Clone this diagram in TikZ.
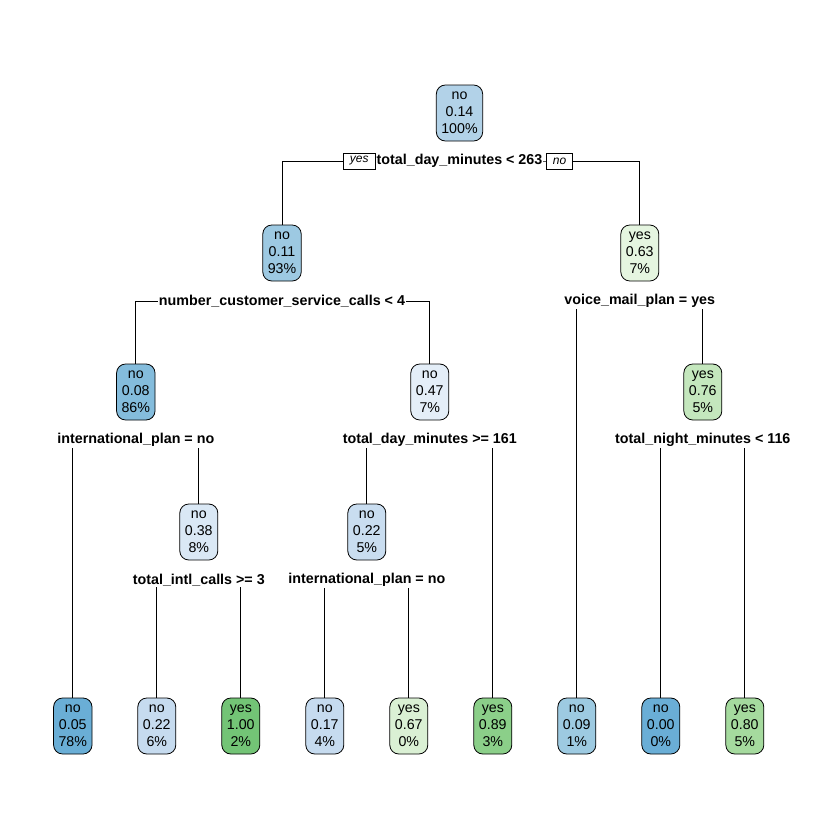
\documentclass[tikz,border=0pt]{standalone}
\usepackage{fontspec}
\setmainfont{Liberation Sans}
\usetikzlibrary{backgrounds}
\definecolor{cRoot}{HTML}{B2D2E8}
\definecolor{cN2}{HTML}{9DC9E2}
\definecolor{cN4}{HTML}{84BCDC}
\definecolor{cDeep}{HTML}{6AAED6}
\definecolor{cL09}{HTML}{9DCAE1}
\definecolor{cL22}{HTML}{C6DBEF}
\definecolor{cN10}{HTML}{C9DDF0}
\definecolor{cN9}{HTML}{DAE8F5}
\definecolor{cN5}{HTML}{E4EEF8}
\definecolor{cN3}{HTML}{E5F5E0}
\definecolor{cL67}{HTML}{DAF0D4}
\definecolor{cN7}{HTML}{C4E7BD}
\definecolor{cL80}{HTML}{A5DA9E}
\definecolor{cL89}{HTML}{8BCF89}
\definecolor{cL100}{HTML}{73C476}
\begin{document}
\begin{tikzpicture}[x=1bp,y=-1bp,
  tnode/.style={draw=black, line width=0.8bp, rounded corners=9bp, minimum height=56bp, minimum width=38bp, inner xsep=5bp, inner ysep=2bp, align=center, font=\fontsize{14.2bp}{16.8bp}\selectfont},
  slabel/.style={fill=white, inner xsep=0.5bp, inner ysep=1bp, font=\fontsize{14.3bp}{16bp}\selectfont\bfseries},
  ynbox/.style={draw=black, fill=white, line width=0.8bp, minimum height=16bp, inner xsep=6.5bp, inner ysep=0bp, font=\fontsize{12bp}{13bp}\selectfont\itshape},
  edge/.style={line width=0.8bp, draw=black}]
\useasboundingbox (0,0) rectangle (840,840);

% internal nodes
\node[tnode, fill=cRoot] (n1) at (459.5,113) {no\\0.14\\100\%};
\node[tnode, fill=cN2] (n2) at (282,253) {no\\0.11\\93\%};
\node[tnode, fill=cN3] (n3) at (639.8,253) {yes\\0.63\\7\%};
\node[tnode, fill=cN4] (n4) at (135.8,392) {no\\0.08\\86\%};
\node[tnode, fill=cN5] (n5) at (429.8,392) {no\\0.47\\7\%};
\node[tnode, fill=cN7] (n7) at (702.8,392) {yes\\0.76\\5\%};
\node[tnode, fill=cN9] (n9) at (198.8,532) {no\\0.38\\8\%};
\node[tnode, fill=cN10] (n10) at (366.8,532) {no\\0.22\\5\%};

% leaves
\node[tnode, fill=cDeep] (f1) at (72.8,726) {no\\0.05\\78\%};
\node[tnode, fill=cL22] (f2) at (156.8,726) {no\\0.22\\6\%};
\node[tnode, fill=cL100] (f3) at (240.8,726) {yes\\1.00\\2\%};
\node[tnode, fill=cL22] (f4) at (324.8,726) {no\\0.17\\4\%};
\node[tnode, fill=cL67] (f5) at (408.8,726) {yes\\0.67\\0\%};
\node[tnode, fill=cL89] (f6) at (492.8,726) {yes\\0.89\\3\%};
\node[tnode, fill=cL09] (f7) at (576.8,726) {no\\0.09\\1\%};
\node[tnode, fill=cDeep] (f8) at (660.8,726) {no\\0.00\\0\%};
\node[tnode, fill=cL80] (f9) at (744.8,726) {yes\\0.80\\5\%};

% split labels
\node[slabel] (l1) at (459.5,161) {total\_day\_minutes < 263};
\node[slabel] (l2) at (282,301) {number\_customer\_service\_calls < 4};
\node[slabel] (l3) at (639.8,301) {voice\_mail\_plan = yes};
\node[slabel] (l4) at (135.8,440) {international\_plan = no};
\node[slabel] (l5) at (429.8,440) {total\_day\_minutes >= 161};
\node[slabel] (l7) at (702.8,440) {total\_night\_minutes < 116};
\node[slabel] (l9) at (198.8,580) {total\_intl\_calls >= 3};
\node[slabel] (l10) at (366.8,580) {international\_plan = no};

\node[ynbox, anchor=east] (yes1) at ([xshift=-0.5bp]l1.west) {yes};
\node[ynbox, anchor=west] (no1) at ([xshift=3bp]l1.east) {no};

\begin{scope}[on background layer]
\draw[edge] (n2.north) |- (l1.center) -| (n3.north);
\draw[edge] (n4.north) |- (l2.center) -| (n5.north);
\draw[edge] (f7.north) |- (l3.center) -| (n7.north);
\draw[edge] (f1.north) |- (l4.center) -| (n9.north);
\draw[edge] (n10.north) |- (l5.center) -| (f6.north);
\draw[edge] (f8.north) |- (l7.center) -| (f9.north);
\draw[edge] (f2.north) |- (l9.center) -| (f3.north);
\draw[edge] (f4.north) |- (l10.center) -| (f5.north);
\end{scope}
\end{tikzpicture}
\end{document}
